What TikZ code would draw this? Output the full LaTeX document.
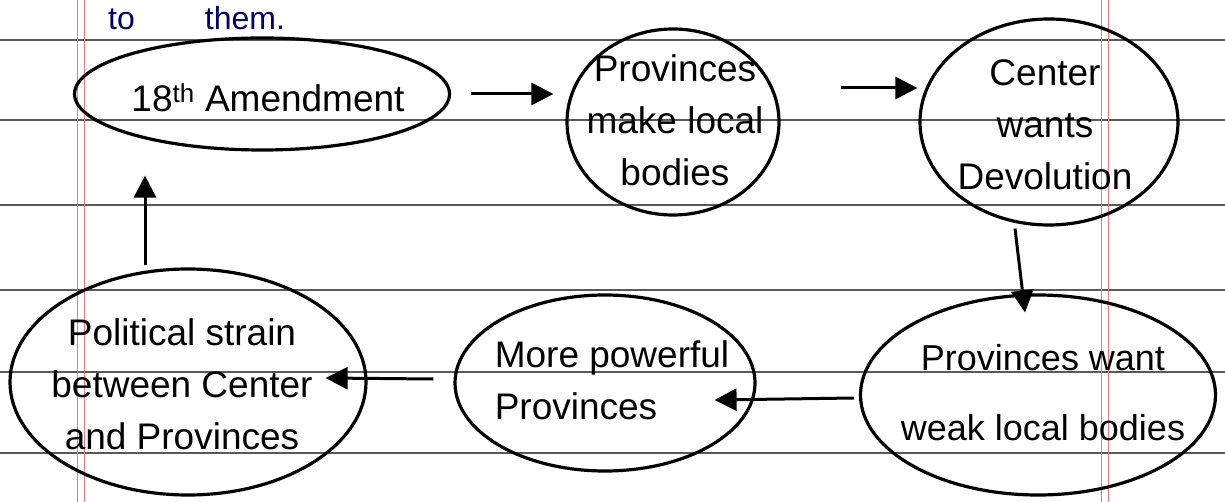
\documentclass[tikz,border=0pt]{standalone}
\usepackage{fontspec}
\setmainfont{Liberation Sans}
\usetikzlibrary{shapes.geometric,arrows.meta,calc}
\tikzset{
  bub/.style={draw=black,line width=3.2pt,ellipse,inner sep=0pt},
  txt/.style={align=center,font=\fontsize{37}{52}\selectfont,inner sep=0pt},
  arr/.style={draw=black,line width=3pt,-{Triangle[length=22pt,width=22pt]}},
  rule/.style={draw=black!65,line width=1.3pt},
  margin/.style={draw=red!55!white,line width=1pt}
}
\begin{document}
\begin{tikzpicture}[x=1pt,y=-1pt]
\useasboundingbox (0,0) rectangle (1225,502);
\fill[white] (0,0) rectangle (1225,502);
% ruled paper
\foreach \yy in {40,120,205,290,372,453}
  \draw[rule] (0,\yy) -- (1225,\yy);
\foreach \xx in {77,84,1101,1108}
  \draw[margin] (\xx,0) -- (\xx,502);
% text at top
\node[anchor=base west,font=\fontsize{32}{32}\selectfont,text=blue!40!black,inner sep=0pt] (tothem) at (108,30) {to\hspace{70pt}them.};
% bubbles
\node[bub,minimum width=375,minimum height=112] (amend) at (262,94) {};
\node[txt] (amendt) at (268,98) {18\textsuperscript{th} Amendment};
\node[bub,minimum width=212,minimum height=186] (plb) at (673,122) {};
\node[txt] (plbt) at (675,120) {Provinces\\make local\\bodies};
\node[bub,minimum width=258,minimum height=206] (cwd) at (1049,122) {};
\node[txt] (cwdt) at (1045,125) {Center\\wants\\Devolution};
\node[bub,minimum width=355,minimum height=200] (pww) at (1038,395) {};
\node[txt,font=\fontsize{36}{70}\selectfont] (pwwt) at (1043,393) {Provinces want\\weak local bodies};
\node[bub,minimum width=300,minimum height=176] (mpp) at (605,383) {};
\node[txt,align=left] (mppt) at (612,380) {More powerful\\Provinces};
\node[bub,minimum width=356,minimum height=226] (strain) at (188,382) {};
\node[txt] (straint) at (182,384) {Political strain\\between Center\\and Provinces};
% connectors
\draw[arr,shorten <=20pt,shorten >=12pt] (amend.east) -- (plb.west |- amend.east);
\draw[arr] ([xshift=60pt,yshift=34pt]plb.east) -- ([xshift=-1pt,yshift=34pt]cwd.west);
\draw[arr] ([xshift=-34pt,yshift=-2pt]cwd.south) -- ([xshift=-13pt,yshift=-19pt]pww.north);
\draw[arr] ([xshift=-5pt,yshift=-3pt]pww.west) -- ([xshift=-42pt,yshift=-17pt]mpp.east);
\draw[arr] ([xshift=-20pt,yshift=4pt]mpp.west) -- ([xshift=-42pt,yshift=4pt]strain.east);
\draw[arr] ([xshift=-43pt,yshift=2pt]strain.north) -- ([xshift=-117pt,yshift=-24pt]amend.south);
\end{tikzpicture}
\end{document}
